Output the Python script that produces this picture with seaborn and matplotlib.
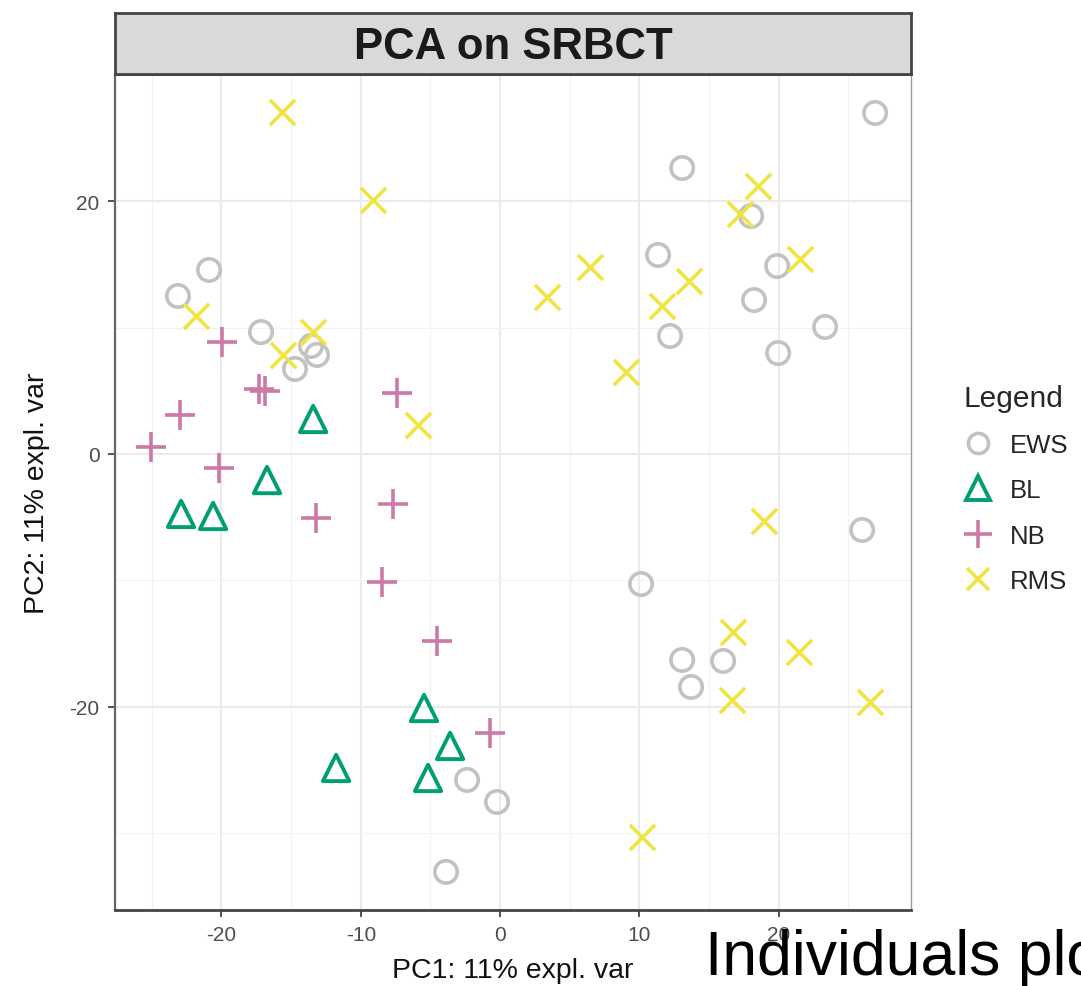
import matplotlib
matplotlib.use("Agg")
import matplotlib.pyplot as plt
from matplotlib.lines import Line2D
import numpy as np
import pandas as pd
import seaborn as sns

# PCA scores per tumour class (PC1, PC2)
ews_x = [26.92, 13.07, 18.02, 11.34, 19.89, 18.23, 23.33, 12.20, 19.96, -23.12, -20.89, -17.16,
         -13.57, -13.14, -14.72, 25.99, 10.12, 13.07, 16.01, 13.71, -2.37, -0.22, -3.88]
ews_y = [26.96, 22.61, 18.81, 15.73, 14.86, 12.17, 10.04, 9.33, 7.98, 12.49, 14.55, 9.64,
         8.54, 7.83, 6.72, -6.01, -10.28, -16.28, -16.36, -18.42, -25.77, -27.51, -33.04]

bl_x = [-13.42, -16.73, -22.90, -20.60, -5.46, -3.59, -5.17, -11.77]
bl_y = [2.77, -2.06, -4.74, -4.90, -20.08, -23.08, -25.61, -24.82]

nb_x = [-19.96, -17.30, -16.87, -22.97, -25.05, -20.17, -7.39, -13.21, -7.68, -8.47, -4.52, -0.72]
nb_y = [8.85, 5.14, 4.98, 3.08, 0.55, -1.11, 4.82, -5.06, -3.95, -10.12, -14.78, -22.06]

rms_x = [-15.65, -9.12, -21.82, -13.42, -15.58, -5.89, 3.37, 6.46, 11.63, 13.57, 9.05, 17.23,
         18.52, 21.54, 18.95, 16.73, 21.46, 16.65, 26.56, 10.19]
rms_y = [27.04, 20.08, 10.91, 9.64, 7.83, 2.29, 12.41, 14.78, 11.70, 13.68, 6.48, 18.97,
         21.19, 15.42, -5.30, -14.07, -15.65, -19.45, -19.60, -30.28]

classes = ["EWS", "BL", "NB", "RMS"]
class_colors = ["#C2C2C2", "#009E73", "#CC79A7", "#F0E442"]

x_ticks = [-20, -10, 0, 10, 20]
y_ticks = [-20, 0, 20]

df = pd.concat([
    pd.DataFrame({"PC1": ews_x, "PC2": ews_y, "class": "EWS"}),
    pd.DataFrame({"PC1": bl_x, "PC2": bl_y, "class": "BL"}),
    pd.DataFrame({"PC1": nb_x, "PC2": nb_y, "class": "NB"}),
    pd.DataFrame({"PC1": rms_x, "PC2": rms_y, "class": "RMS"}),
], ignore_index=True)

sns.set_style("white")
plt.rcParams["font.family"] = ["Liberation Sans", "DejaVu Sans"]
plt.rcParams["axes.unicode_minus"] = False

fig = plt.figure(figsize=(10.81, 9.87), dpi=100)
ax = fig.add_axes([0.1064, 0.077, 0.7364, 0.847])

marker_style = {
    "EWS": dict(marker="o", s=260, facecolor="none", linewidths=2.6),
    "BL": dict(marker="^", s=360, facecolor="none", linewidths=2.8),
    "NB": dict(marker="+", s=480, linewidths=2.6),
    "RMS": dict(marker="x", s=330, linewidths=2.6),
}

for cls, col in zip(classes, class_colors):
    sub = df[df["class"] == cls]
    kw = dict(marker_style[cls])
    sns.scatterplot(data=sub, x="PC1", y="PC2", ax=ax, color=col, edgecolor=col,
                    label=cls, legend=False, zorder=3, **kw)

ax.set_xlim(-27.64, 29.5)
ax.set_ylim(-36.05, 30.04)
ax.set_xticks(x_ticks)
ax.set_yticks(y_ticks)
ax.set_xticks([-25, -15, -5, 5, 15, 25], minor=True)
ax.set_yticks([-30, -10, 10, 30], minor=True)
ax.grid(which="major", color="#EBEBEB", linewidth=1.5, zorder=0)
ax.grid(which="minor", color="#F2F2F2", linewidth=0.8, zorder=0)
ax.set_axisbelow(True)

ax.tick_params(axis="both", which="major", bottom=True, left=True, length=5, width=1.3,
               color="#444444", labelsize=15, labelcolor="#4D4D4D", pad=6)
ax.tick_params(axis="both", which="minor", bottom=False, left=False)

for side, col, lw in [("left", "#666666", 1.6), ("bottom", "#444444", 2.0),
                      ("right", "#999999", 1.0), ("top", "#444444", 2.0)]:
    ax.spines[side].set_color(col)
    ax.spines[side].set_linewidth(lw)
    ax.spines[side].set_visible(True)

ax.set_xlabel("PC1: 11% expl. var", fontsize=20.5, labelpad=9, color="#111111")
ax.set_ylabel("PC2: 11% expl. var", fontsize=20.5, labelpad=14, color="#111111")

# facet strip with the title
strip = fig.add_axes([0.1064, 0.924, 0.7364, 0.0618])
strip.set_facecolor("#D9D9D9")
strip.set_xticks([])
strip.set_yticks([])
for sp in strip.spines.values():
    sp.set_color("#444444")
    sp.set_linewidth(2.0)
strip.text(0.5, 0.45, "PCA on SRBCT", ha="center", va="center", fontsize=31.5,
           fontweight="bold", color="#1A1A1A", transform=strip.transAxes)

# legend
handles = []
for cls, col in zip(classes, class_colors):
    st = marker_style[cls]
    filled = st["marker"] in ("o", "^")
    handles.append(Line2D([], [], linestyle="none", marker=st["marker"],
                          markersize=np.sqrt(st["s"]) * 0.9,
                          markerfacecolor="none" if filled else col,
                          markeredgecolor=col, markeredgewidth=st["linewidths"],
                          label=cls))
leg = fig.legend(handles=handles, title="Legend", loc="upper left",
                 bbox_to_anchor=(0.882, 0.62), frameon=False, fontsize=18.5,
                 title_fontsize=21.5, handlelength=1.1, handletextpad=0.7,
                 labelspacing=0.82, borderaxespad=0)
leg._legend_box.align = "left"

fig.text(705 / 1081, 1 - 975 / 987, "Individuals plot", fontsize=45, va="baseline",
         ha="left", color="black")

fig.savefig("out.png", dpi=100)
